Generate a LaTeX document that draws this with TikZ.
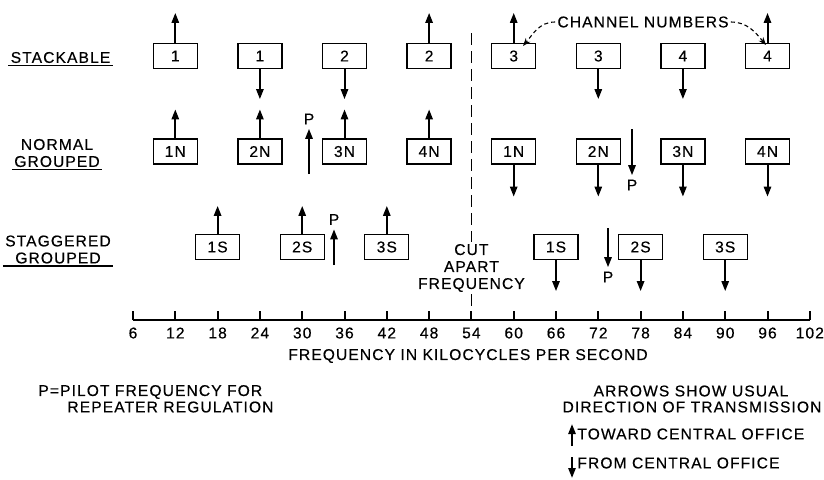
\documentclass[tikz,border=0pt]{standalone}
\usepackage{fontspec}
\setmainfont{Liberation Sans}[LetterSpace=7,FakeBold=0.4]
\usetikzlibrary{arrows.meta}
\tikzset{
  chan/.style={draw,line width=.65pt,minimum width=22pt,minimum height=12.5pt,inner sep=0pt},
  sig/.style={line width=1pt,-{Triangle[length=5pt,width=3.6pt]}},
  rowlab/.style={align=center,inner sep=1pt},
  uline/.style={line width=.9pt},
  pilot/.style={inner sep=2pt},
  axis/.style={line width=1pt},
  cutline/.style={line width=.9pt,dash pattern=on 6pt off 3pt},
  callout/.style={line width=.55pt,dash pattern=on 2pt off 1.5pt,-{Stealth[length=4pt,width=3pt]}}
}

\begin{document}
\begin{tikzpicture}[x=.5pt,y=-.5pt,font=\fontsize{7.8}{8.5}\selectfont]
\useasboundingbox (0,0) rectangle (824,479);
\node[rowlab] (stack) at (60.5,57.5) {STACKABLE};
\draw[uline] (stack.south west) -- (stack.south east);
\node[rowlab] (norm) at (57,153) {NORMAL\\GROUPED};
\draw[uline] (norm.south west) -- (norm.south east);
\node[rowlab] (stag) at (58,249.5) {STAGGERED\\GROUPED};
\draw[uline] (stag.south west) -- (stag.south east);

\node[chan] (s1) at (175.3,56) {1};
\node[chan] (s2) at (259.9,56) {1};
\node[chan] (s3) at (344.5,56) {2};
\node[chan] (s4) at (429.1,56) {2};
\node[chan] (s5) at (513.7,56) {3};
\node[chan] (s6) at (598.3,56) {3};
\node[chan] (s7) at (682.9,56) {4};
\node[chan] (s8) at (767.5,56) {4};
\draw[sig] (s1.north) -- ++(0,-30);
\draw[sig] (s2.south) -- ++(0,30);
\draw[sig] (s3.south) -- ++(0,30);
\draw[sig] (s4.north) -- ++(0,-30);
\draw[sig] (s5.north) -- ++(0,-30);
\draw[sig] (s6.south) -- ++(0,30);
\draw[sig] (s7.south) -- ++(0,30);
\draw[sig] (s8.north) -- ++(0,-30);

\node[chan] (n1) at (175.3,151.5) {1N};
\node[chan] (n2) at (259.9,151.5) {2N};
\node[chan] (n3) at (344.5,151.5) {3N};
\node[chan] (n4) at (429.1,151.5) {4N};
\node[chan] (n5) at (513.7,151.5) {1N};
\node[chan] (n6) at (598.3,151.5) {2N};
\node[chan] (n7) at (682.9,151.5) {3N};
\node[chan] (n8) at (767.5,151.5) {4N};
\draw[sig] (n1.north) -- ++(0,-29);
\draw[sig] (n2.north) -- ++(0,-29);
\draw[sig] (n3.north) -- ++(0,-29);
\draw[sig] (n4.north) -- ++(0,-29);
\draw[sig] (n5.south) -- ++(0,32);
\draw[sig] (n6.south) -- ++(0,32);
\draw[sig] (n7.south) -- ++(0,32);
\draw[sig] (n8.south) -- ++(0,32);
\node[pilot] (pn1) at (309,119) {P};
\coordinate (pn1b) at (309,174);
\draw[sig] (pn1b) -- (pn1.south);
\node[pilot] (pn2) at (632,185) {P};
\coordinate (pn2t) at (632,129);
\draw[sig] (pn2t) -- (pn2.north);

\node[chan] (g1) at (217.6,247) {1S};
\node[chan] (g2) at (302.2,247) {2S};
\node[chan] (g3) at (386.8,247) {3S};
\node[chan] (g4) at (556,247) {1S};
\node[chan] (g5) at (640.6,247) {2S};
\node[chan] (g6) at (725.2,247) {3S};
\draw[sig] (g1.north) -- ++(0,-28);
\draw[sig] (g2.north) -- ++(0,-28);
\draw[sig] (g3.north) -- ++(0,-28);
\draw[sig] (g4.south) -- ++(0,31);
\draw[sig] (g5.south) -- ++(0,31);
\draw[sig] (g6.south) -- ++(0,31);
\node[pilot] (pg1) at (334,219.5) {P};
\coordinate (pg1b) at (334,265);
\draw[sig] (pg1b) -- (pg1.south);
\node[pilot] (pg2) at (608,277) {P};
\coordinate (pg2t) at (608,228);
\draw[sig] (pg2t) -- (pg2.north);

% cut apart frequency
\node[align=center,inner sep=1pt] (cut) at (471.4,268) {CUT\\APART\\FREQUENCY};
\coordinate (cuttop) at (471.4,33);
\coordinate (cutbot) at (471.4,320);
\draw[cutline] (cuttop) -- (cut.north);
\draw[cutline] (cut.south) -- (cutbot);

\node[inner sep=1pt] (chn) at (643,22) {CHANNEL NUMBERS};
\coordinate (c3) at (523,46);
\coordinate (c4) at (766,45);
\draw[callout] (chn.west) to[out=180,in=50] (c3);
\draw[callout] (chn.east) to[out=0,in=130] (c4);

% frequency scale
\coordinate (ax0) at (133,320);
\coordinate (ax1) at (809.8,320);
\draw[axis] (ax0) -- (ax1);
\foreach \f in {6,12,...,102} {
  \draw[axis] ({133+(\f-6)*7.05},320) -- ++(0,-9);
  \node (t\f) at ({133+(\f-6)*7.05},333) {\f};
}
\node (axtitle) at (468,356) {FREQUENCY IN KILOCYCLES PER SECOND};

\node[anchor=west,inner sep=0pt] (key1) at (38,392) {P=PILOT FREQUENCY FOR};
\node[anchor=west,inner sep=0pt] (key2) at (67,407) {REPEATER REGULATION};
\node (dir1) at (691,391) {ARROWS SHOW USUAL};
\node (dir2) at (692,407) {DIRECTION OF TRANSMISSION};
\node[anchor=west,inner sep=0pt] (keyto) at (577,434) {TOWARD CENTRAL OFFICE};
\node[anchor=west,inner sep=0pt] (keyfrom) at (577,463) {FROM CENTRAL OFFICE};
\coordinate (up0) at (572,446);
\coordinate (up1) at (572,424);
\draw[sig] (up0) -- (up1);
\coordinate (dn0) at (572,457);
\coordinate (dn1) at (572,478);
\draw[sig] (dn0) -- (dn1);
\end{tikzpicture}
\end{document}
